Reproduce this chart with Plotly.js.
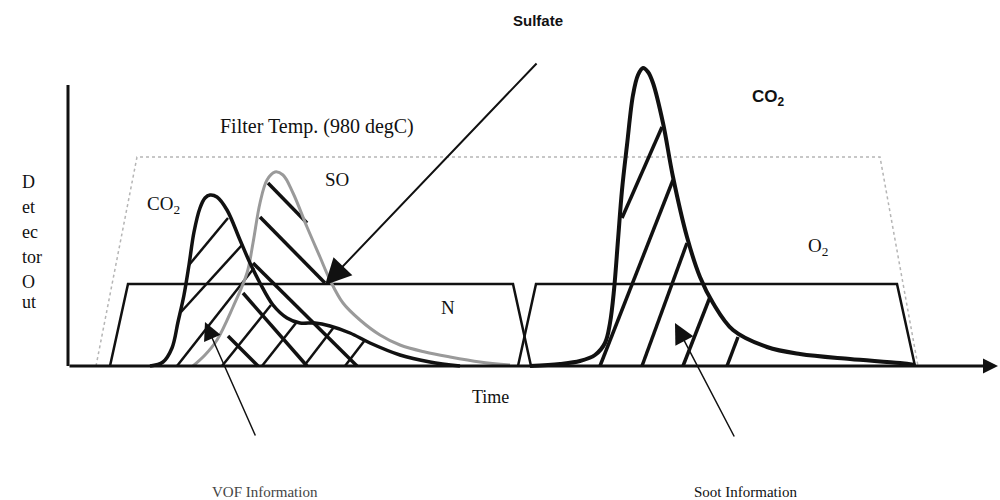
<!DOCTYPE html>
<html>
<head>
<meta charset="utf-8">
<script src="https://cdn.plot.ly/plotly-3.0.1.min.js"></script>
<style>html,body{margin:0;padding:0;background:#fff;}#chart{width:1000px;height:500px;}</style>
</head>
<body>
<div id="chart"></div>
<script>
// ---- Data (time, detector output) ----
// First-stage CO2 peak (VOF)
const co2A_t = [150,163,172,178,184,189,194,200,205,210,217,227,240,250,260,273,287,300,315,330,350,370,400,430,460];
const co2A_v = [0,4,18,44,71,101,134,158,168,171,169,156,126,103,83,61,48,43,43,40,33,23,11,4,0];
// SO2 peak (sulfate)
const so_t = [193,205,217,233,247,253,260,267,275,283,293,307,320,330,343,360,380,400,425,450,480,510];
const so_v = [0,11,26,59,93,123,163,186,194,191,173,139,109,86,63,46,31,21,14,9,4,1];
// Second-stage CO2 peak (soot)
const co2B_t = [530,560,580,595,605,610,614,618,622,627,633,638,643,648,653,663,673,687,700,713,733,767,800,850,900,915];
const co2B_v = [0,2,5,11,23,43,76,126,176,221,271,291,298,294,283,243,189,129,89,63,36,19,12,7,3,1];
// Filter temperature profile
const temp_t = [96,137,880,918];
const temp_v = [0,209,209,0];
// Carrier gas steps: N2 then O2
const n2_t = [110,128,513,531];
const n2_v = [0,82,82,0];
const o2_t = [518,536,897,915];
const o2_v = [0,82,82,0];
// Hatching of CO2 (VOF) area
const hatchA_t = [189,228,null,181,242,null,177,254,null,222,271,null,262,296,null,304,334,null,345,365];
const hatchA_v = [101,148,null,54,121,null,0,98,null,0,61,null,0,43,null,0,39,null,0,26];
// Hatching of SO2 (sulfate) area
const hatchS_t = [268,307,null,260,325,null,253,357,null,243,307,null,228,258];
const hatchS_v = [183,143,null,149,83,null,103,0,null,73,0,null,30,0];
// Hatching of CO2 (soot) area
const hatchB_t = [622,662,null,600,673,null,642,687,null,683,710,null,727,738];
const hatchB_v = [148,239,null,0,186,null,0,123,null,0,69,null,0,29];
// Y-axis label split in rows
const yLabelRows = ['D','et','ec','tor','O','ut'];

const serif = 'Liberation Serif, Times New Roman, serif';
const sans = 'Liberation Sans, Arial, sans-serif';

function line(t, v, color, width, dash, spline) {
  return {x: t, y: v, type: 'scatter', mode: 'lines', hoverinfo: 'skip',
    line: {color: color, width: width, dash: dash || 'solid', shape: spline ? 'spline' : 'linear', smoothing: 1},
    connectgaps: false};
}

const traces = [
  line(temp_t, temp_v, '#b5b5b5', 1.5, 'dot', false),
  line(n2_t, n2_v, '#111', 2.5, 'solid', false),
  line(o2_t, o2_v, '#111', 2.5, 'solid', false),
  line(hatchA_t, hatchA_v, '#111', 2.5, 'solid', false),
  line(hatchS_t, hatchS_v, '#111', 3.5, 'solid', false),
  line(hatchB_t, hatchB_v, '#111', 3.5, 'solid', false),
  line(so_t, so_v, '#9a9a9a', 3, 'solid', true),
  line(co2A_t, co2A_v, '#111', 3.5, 'solid', true),
  line(co2B_t, co2B_v, '#111', 4, 'solid', true)
];

function txt(x, y, text, font, size, color, extra) {
  return Object.assign({x: x, y: y, xref: 'x', yref: 'y', text: text, showarrow: false,
    xanchor: 'center', yanchor: 'middle', font: {family: font, size: size, color: color || '#111'}}, extra || {});
}
function arrow(x, y, ax, ay, w, size) {
  return {x: x, y: y, ax: ax, ay: ay, xref: 'x', yref: 'y', axref: 'x', ayref: 'y', text: '',
    showarrow: true, arrowhead: 2, arrowwidth: w, arrowsize: size, arrowcolor: '#111', standoff: 0};
}

const yRowsV = [184,159,134,109,84,64];
const annotations = [
  txt(538, 346, '<b>Sulfate</b>', sans, 15),
  txt(317, 240, 'Filter Temp. (980 degC)', serif, 20),
  txt(768, 268, '<b>CO<sub>2</sub></b>', sans, 17),
  txt(163, 161, 'CO<sub>2</sub>', serif, 19),
  txt(337, 187, 'SO', serif, 19),
  txt(448, 59, 'N', serif, 19),
  txt(818, 119, 'O<sub>2</sub>', serif, 19),
  txt(490, -31, 'Time', serif, 18),
  txt(265, -126, 'VOF Information', serif, 15, '#444'),
  txt(745, -126, 'Soot Information', serif, 15),
  arrow(325, 81, 538, 304, 2, 2.6),
  arrow(205, 44, 256, -71, 1.5, 2.4),
  arrow(675, 43, 735, -72, 1.5, 2.7),
  arrow(998, 0, 68, 0, 3, 1.0)
];
yLabelRows.forEach(function (r, i) {
  annotations.push(txt(20, yRowsV[i], r, serif, 18, '#111', {xanchor: 'left'}));
});

const layout = {
  width: 1000, height: 500,
  margin: {l: 0, r: 0, t: 0, b: 0},
  paper_bgcolor: '#fff', plot_bgcolor: '#fff',
  showlegend: false,
  xaxis: {range: [0, 1000], visible: false, fixedrange: true},
  yaxis: {range: [-134, 366], visible: false, fixedrange: true},
  shapes: [
    {type: 'line', xref: 'x', yref: 'y', x0: 68, x1: 68, y0: 0, y1: 281, line: {color: '#111', width: 3}}
  ],
  annotations: annotations
};

Plotly.newPlot('chart', traces, layout, {staticPlot: true, displayModeBar: false});
</script>
</body>
</html>
